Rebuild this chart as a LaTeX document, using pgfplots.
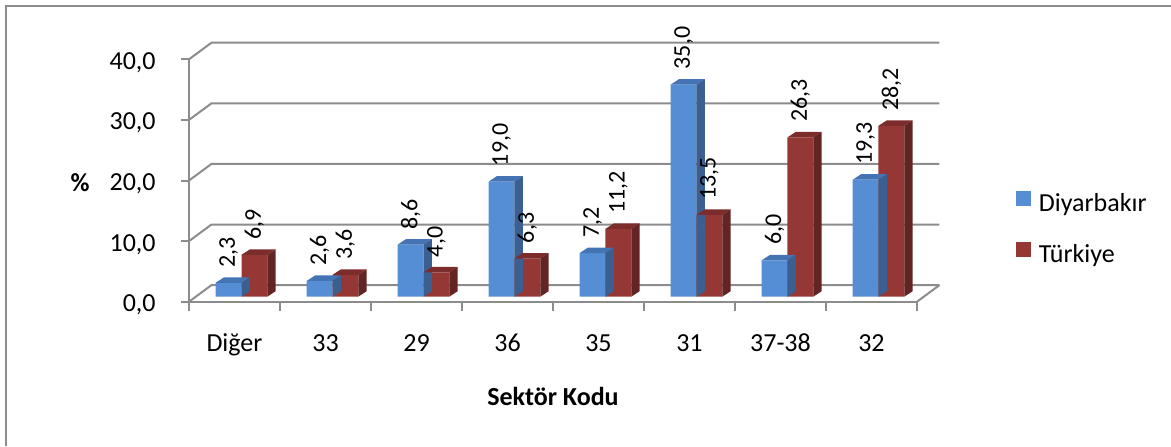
\documentclass[border=0pt]{standalone}
\usepackage{pgfplots}
\pgfplotsset{compat=1.18}
\usepackage{pgfplotstable}
\usepackage{fontspec}
\setmainfont{Carlito}
\definecolor{gridgray}{HTML}{8C8C8C}
\definecolor{bfront}{HTML}{558ED5}
\definecolor{btop}{HTML}{4574B4}
\definecolor{bside}{HTML}{3A5F90}
\definecolor{rfront}{HTML}{953735}
\definecolor{rtop}{HTML}{7C2D2B}
\definecolor{rside}{HTML}{632523}
\pgfdeclareplotmark{emptymark}{}

\pgfplotstableread{
x d t
0 2.3 6.9
1 2.6 3.6
2 8.6 4.0
3 19.0 6.3
4 7.2 11.2
5 35.0 13.5
6 6.0 26.3
7 19.3 28.2
}\data

\begin{document}
\begin{tikzpicture}
\useasboundingbox (0,0) rectangle (585.5pt,223pt);
\draw[gridgray, line width=1pt] (2.75pt,0) -- (2.75pt,220.25pt) -- (585.5pt,220.25pt);

\begin{axis}[
  at={(94.5pt,72.15pt)}, anchor=south west,
  scale only axis, width=364pt, height=121.2pt,
  xmin=-0.5, xmax=7.5, ymin=0, ymax=40,
  clip=false,
  axis x line*=bottom, axis y line*=left,
  axis line style={gridgray, line width=1pt, -},
  ytick={0,10,20,30,40},
  ytick align=outside,
  ytick style={gridgray, line width=1pt},
  major tick length=4pt,
  xtick={0,...,7},
  xtick align=inside,
  xtick style={draw=none},
  xticklabels={Diğer,33,29,36,35,31,37-38,32},
  tick label style={font=\fontsize{13pt}{15pt}\selectfont},
  xticklabel style={anchor=base, inner sep=0pt, yshift=-25pt},
  yticklabel style={anchor=base east, inner sep=0pt, xshift=-12.5pt, yshift=-5pt},
  /pgf/number format/.cd, fixed, fixed zerofill, precision=1, use comma, assume math mode=true,
  /pgfplots/.cd,
  xlabel={\textbf{Sektör Kodu}},
  ylabel={\textbf{\%}},
  every axis x label/.style={at={(axis description cs:0.5,-0.4262)}, anchor=base, font=\fontsize{13pt}{15pt}\selectfont},
  every axis y label/.style={at={(axis description cs:-0.1497,0.4897)}, anchor=center, font=\fontsize{13pt}{15pt}\selectfont},
]
\pgfplotsinvokeforeach{0,10,20,30,40}{
  \draw[gridgray, line width=1pt] (axis cs:-0.5,#1) -- ++(11.25pt,8.3pt) -- ([shift={(11.25pt,8.3pt)}]axis cs:7.5,#1);
}
\draw[gridgray, line width=1pt] (axis cs:7.5,0) -- ++(11.25pt,8.3pt);
\pgfplotsinvokeforeach{-0.5,0.5,1.5,2.5,3.5,4.5,5.5,6.5,7.5}{
  \draw[gridgray, line width=1pt] (axis cs:#1,0) -- ([yshift=-4.5pt]axis cs:#1,0);
}
\end{axis}

\begin{axis}[
  at={(98pt,74.65pt)}, anchor=south west,
  scale only axis, width=364pt, height=121.2pt,
  xmin=-0.5, xmax=7.5, ymin=0, ymax=40,
  clip=false, hide axis,
  legend style={draw=none, fill=none, inner sep=0pt, outer sep=0pt,
    at={(axis description cs:1.1264,0.2764)}, anchor=west,
    row sep=12pt,
    nodes={inner sep=0pt, text height=9pt, text depth=3pt, font=\fontsize{13pt}{15pt}\selectfont},
    /tikz/every odd column/.append style={column sep=4pt}},
  legend cell align=left,
  legend image code/.code={\fill[#1] (0pt,0pt) rectangle (7.4pt,7.4pt);},
  every node near coord/.append style={font=\fontsize{12pt}{14pt}\selectfont, rotate=90, anchor=west, inner sep=0pt, xshift=7.5pt, text=black},
]
\addplot[ybar, bar width=12.9pt, bar shift=-6.45pt, fill=bfront, draw=none,
  nodes near coords={\pgfmathprintnumber[fixed,fixed zerofill,precision=1,use comma,assume math mode=true]{\pgfplotspointmeta}},
  every node near coord/.append style={yshift=6.45pt}] table[x=x,y=d]{\data};
\addlegendentry{Diyarbakır}
\addplot[forget plot, scatter, only marks, mark=emptymark,
  visualization depends on={rawy \as \hv},
  scatter/@pre marker code/.code={
    \pgfsetfillcolor{btop}
    \pgfpathmoveto{\pgfpoint{-12.9pt}{0pt}}
    \pgfpathlineto{\pgfpoint{0pt}{0pt}}
    \pgfpathlineto{\pgfpoint{4.15pt}{2.75pt}}
    \pgfpathlineto{\pgfpoint{-8.75pt}{2.75pt}}
    \pgfpathclose
    \pgfusepath{fill}
    \pgfsetfillcolor{bside}
    \pgfpathmoveto{\pgfpoint{0pt}{0pt}}
    \pgfpathlineto{\pgfpoint{4.15pt}{2.75pt}}
    \pgfpathlineto{\pgfpoint{4.15pt}{2.75pt-\hv*3.03pt}}
    \pgfpathlineto{\pgfpoint{0pt}{-\hv*3.03pt}}
    \pgfpathclose
    \pgfusepath{fill}
  },
  scatter/@post marker code/.code={}] table[x=x,y=d]{\data};
\addplot[ybar, bar width=12.9pt, bar shift=6.45pt, fill=rfront, draw=none,
  nodes near coords={\pgfmathprintnumber[fixed,fixed zerofill,precision=1,use comma,assume math mode=true]{\pgfplotspointmeta}},
  every node near coord/.append style={yshift=-6.45pt}] table[x=x,y=t]{\data};
\addlegendentry{Türkiye}
\addplot[forget plot, scatter, only marks, mark=emptymark,
  visualization depends on={rawy \as \hv},
  scatter/@pre marker code/.code={
    \pgfsetfillcolor{rtop}
    \pgfpathmoveto{\pgfpoint{0pt}{0pt}}
    \pgfpathlineto{\pgfpoint{12.9pt}{0pt}}
    \pgfpathlineto{\pgfpoint{17.05pt}{2.75pt}}
    \pgfpathlineto{\pgfpoint{4.15pt}{2.75pt}}
    \pgfpathclose
    \pgfusepath{fill}
    \pgfsetfillcolor{rside}
    \pgfpathmoveto{\pgfpoint{12.9pt}{0pt}}
    \pgfpathlineto{\pgfpoint{17.05pt}{2.75pt}}
    \pgfpathlineto{\pgfpoint{17.05pt}{2.75pt-\hv*3.03pt}}
    \pgfpathlineto{\pgfpoint{12.9pt}{-\hv*3.03pt}}
    \pgfpathclose
    \pgfusepath{fill}
  },
  scatter/@post marker code/.code={}] table[x=x,y=t]{\data};
\end{axis}
\end{tikzpicture}
\end{document}
